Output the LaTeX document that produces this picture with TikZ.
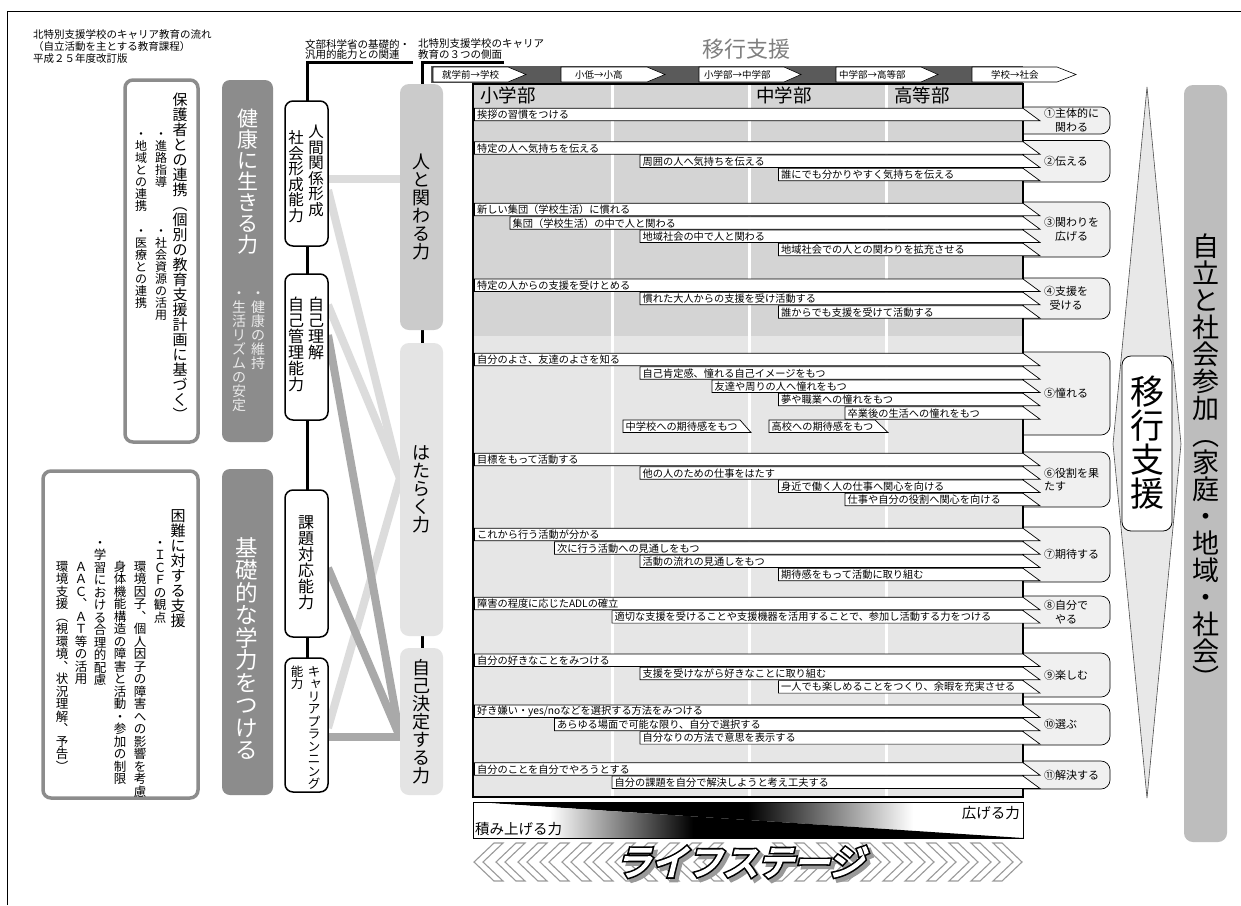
\documentclass[tikz,border=0pt]{standalone}
\usepackage{fontspec}
\setmainfont{Noto Sans CJK JP}
\newfontfamily\lsblack[FakeBold=14,FakeSlant=0.25]{Noto Sans CJK JP}
\newfontfamily\lswhite[FakeBold=5,FakeSlant=0.25]{Noto Sans CJK JP}
\newcommand\fsz[1]{\fontsize{#1}{#1}\selectfont}
\newcommand\fszl[2]{\fontsize{#1}{#2}\selectfont}
% vertical stacking of characters
\def\vstk#1{\ifx\relax#1\else\hbox to 1em{\hss\vrule height .88em depth .12em width 0pt#1\hss}\expandafter\vstk\fi}
\newcommand\vtxt[1]{\vbox{\offinterlineskip\vstk#1\relax}}
\newcommand\vsm[1]{\hbox to 1em{\vrule height .88em depth .12em width 0pt\kern .14em\raise .12em\hbox{#1}\hss}}
\definecolor{gbox}{HTML}{8C8C8C}
\definecolor{bgdark}{HTML}{D4D4D4}
\definecolor{bglight}{HTML}{E6E6E6}
\definecolor{boxdark}{HTML}{CBCBCB}
\definecolor{boxlight}{HTML}{E4E4E4}
\definecolor{linelight}{HTML}{DCDCDC}
\definecolor{linedark}{HTML}{A9A9A9}
\definecolor{lblfill}{HTML}{F0F0F0}
\definecolor{bandgray}{HTML}{5A5A5A}
\definecolor{diafill}{HTML}{E8E8E8}
\definecolor{jiritsu}{HTML}{BDBDBD}
\definecolor{chev}{HTML}{9A9A9A}
\definecolor{titlegray}{HTML}{7F7F7F}
\pgfdeclarehorizontalshading{upperg}{100bp}{color(0bp)=(black); color(25bp)=(black); color(50bp)=(black); color(65bp)=(white); color(100bp)=(white)}
\pgfdeclarehorizontalshading{lowerg}{100bp}{color(0bp)=(white); color(32bp)=(white); color(45bp)=(black); color(100bp)=(black)}
\tikzset{
  vt/.style={anchor=north, inner sep=0pt},
  vc/.style={anchor=center, inner sep=0pt},
  barsty/.style={fill=white, draw=black, line width=0.7pt},
  bartext/.style={anchor=west, inner sep=0pt, font=\fsz{10.2}},
  lblbox/.style={fill=lblfill, draw=black, line width=0.7pt, rounded corners=9pt},
  lbltext/.style={anchor=west, inner sep=0pt, font=\fszl{11}{13.5}, align=center},
  arrowbox/.style={fill=white, draw=black, line width=0.6pt},
  arrowtext/.style={anchor=west, inner sep=0pt, font=\fsz{9.5}},
  hdr/.style={anchor=west, inner sep=0pt, font=\fsz{10.5}},
  colline/.style={line width=3pt, black},
  capbox/.style={fill=white, draw=black, line width=1.5pt, rounded corners=8pt},
  lightband/.style={linelight, line width=8pt},
  darkband/.style={linedark, line width=8pt},
  chevsty/.style={fill=white, draw=chev, line width=1.1pt, line join=miter},
}
\newcounter{barc}
\newcommand\rowbar[3]{\stepcounter{barc}%
  \draw[barsty] (#1,#2) -- (1023,#2) -- (1040,#2+12.5) -- (#1,#2+12.5) -- cycle;
  \node[bartext] (bar\the\value{barc}) at (#1+2.5,#2+6.5) {#3};}
\newcommand\smallbar[5]{\stepcounter{barc}%
  \draw[barsty] (#1,#2) -- (#3,#2) -- (#4,#2+12.5) -- (#1,#2+12.5) -- cycle;
  \node[bartext] (bar\the\value{barc}) at (#1+2.5,#2+6.5) {#5};}
\newcommand\lbl[4]{%
  \draw[lblbox] (1023,#1) -- (1110,#1) -- (1110,#2) -- (1023,#2);
  \node[lbltext] (#4) at (1044,{(#1+#2)/2}) {#3};}
\newcommand\chevL[1]{\draw[chevsty] (#1,862) -- (#1+20,843) -- (#1+29,843) -- (#1+9,862) -- (#1+29,881) -- (#1+20,881) -- cycle;}
\newcommand\chevR[1]{\draw[chevsty] (#1,862) -- (#1-20,843) -- (#1-29,843) -- (#1-9,862) -- (#1-29,881) -- (#1-20,881) -- cycle;}
\begin{document}
\begin{tikzpicture}[x=1pt,y=-1pt]
\useasboundingbox (0,0) rectangle (1241,905);
\fill[white] (0,0) rectangle (1241,905);
% frame
\draw[line width=0.8pt] (7,905) -- (7,11) -- (1241,11);

% headers
\node[hdr] (h1) at (33,35) {北特別支援学校のキャリア教育の流れ};
\node[hdr] (h2) at (33,47) {（自立活動を主とする教育課程）};
\node[hdr] (h3) at (33,59) {平成２５年度改訂版};
\node[hdr] (h4) at (305,44) {文部科学省の基礎的・};
\node[hdr] (h5) at (305,55) {汎用的能力との関連};
\node[hdr] (h6) at (418,44) {北特別支援学校のキャリア};
\node[hdr] (h7) at (418,55) {教育の３つの側面};
\node[font=\fsz{22}, text=titlegray, inner sep=0pt] (title) at (746,49) {移行支援};

% left box 1
\draw[gbox, line width=3.5pt, fill=white, rounded corners=8pt] (125,80) rectangle (198,442);
\node[vt, font=\fsz{15}] (p1) at (180,92) {\vtxt{保護者との連携︵個別の教育支援計画に基づく︶}};
\node[vt, font=\fsz{12}] (p2) at (161,128) {\vtxt{・進路指導}};
\node[vt, font=\fsz{12}] (p3) at (161,225) {\vtxt{・社会資源の活用}};
\node[vt, font=\fsz{12}] (p4) at (141,128) {\vtxt{・地域との連携}};
\node[vt, font=\fsz{12}] (p5) at (141,225) {\vtxt{・医療との連携}};
% gray box 1
\fill[gbox, rounded corners=8pt] (222,80) rectangle (273,442);
\node[vt, font=\fsz{21}, text=white] (k1) at (248,108) {\vtxt{健康に生きる力}};
\node[vt, font=\fsz{14}, text=white!92!black] (k2) at (258,286) {\vtxt{・健康の維持}};
\node[vt, font=\fsz{14}, text=white!92!black] (k3) at (239,286) {\vtxt{・生活リズムの安定}};

% left box 2
\draw[gbox, line width=3.5pt, fill=white, rounded corners=8pt] (43,471) rectangle (198,798);
\node[vt, font=\fsz{15}] (c1) at (178,508) {\vtxt{困難に対する支援}};
\node[vt, font=\fsz{12.5}] (c2) at (160,536) {\vtxt{・ＩＣＦの観点}};
\node[vt, font=\fsz{12.5}] (c3) at (140,560) {\vtxt{環境因子︑個人因子の障害への影響を考慮}};
\node[vt, font=\fsz{12.5}] (c4) at (120,560) {\vtxt{身体機能構造の障害と活動・参加の制限}};
\node[vt, font=\fsz{12.5}] (c5) at (100,536) {\vtxt{・学習における合理的配慮}};
\node[vt, font=\fsz{12.5}] (c6) at (81,560) {\vtxt{ＡＡＣ︑ＡＴ等の活用}};
\node[vt, font=\fsz{12.5}] (c7) at (62,560) {\vtxt{環境支援︵視環境︑状況理解︑予告︶}};
% gray box 2
\fill[gbox, rounded corners=8pt] (222,469) rectangle (273,795);
\node[vt, font=\fsz{22.5}, text=white] (k4) at (247,536) {\vtxt{基礎的な学力をつける}};

% column lines
\draw[colline] (413,62) -- (307,62) -- (307,790);
\draw[colline] (504,62) -- (422,62) -- (422,700);

% connecting bands
\draw[lightband] (328,179) -- (400,179);
\draw[lightband] (328,190) -- (400,478);
\draw[lightband] (328,305) -- (400,478);
\draw[lightband] (328,728) -- (400,478);
\draw[darkband] (328,335) -- (400,737);
\draw[darkband] (328,568) -- (400,737);
\draw[darkband] (328,737) -- (400,737);

% capability boxes
\draw[capbox] (285,101) rectangle (328,246);
\node[vt, font=\fsz{15.5}] (a1) at (316,124) {\vtxt{人間関係形成}};
\node[vt, font=\fsz{15.5}] (a2) at (296,130) {\vtxt{社会形成能力}};
\draw[capbox] (285,274) rectangle (328,420);
\node[vt, font=\fsz{16}] (a3) at (316,296) {\vtxt{自己理解}};
\node[vt, font=\fsz{16}] (a4) at (296,296) {\vtxt{自己管理能力}};
\draw[capbox] (285,490) rectangle (328,637);
\node[vt, font=\fsz{16}] (a5) at (306,514) {\vtxt{課題対応能力}};
\draw[capbox] (285,658) rectangle (328,792);
\node[vt, font=\fsz{12.5}] (a6) at (314,665) {\vbox{\offinterlineskip\vstk キ\relax\vsm{ャ}\vstk リアプランニング\relax}};
\node[vt, font=\fsz{12.5}] (a7) at (297,665) {\vtxt{能力}};

% three powers
\fill[boxdark, rounded corners=9pt] (400,84) rectangle (443,330);
\node[vc, font=\fsz{18}] (f1) at (421.5,207) {\vtxt{人と関わる力}};
\fill[boxlight, rounded corners=9pt] (400,343) rectangle (443,636);
\node[vc, font=\fsz{18}] (f2) at (421.5,489) {\vtxt{はたらく力}};
\fill[boxlight, rounded corners=9pt] (400,648) rectangle (443,795);
\node[vc, font=\fsz{18}] (f3) at (421.5,722) {\vtxt{自己決定する力}};

% top arrow band
\fill[bandgray] (431,66) rectangle (1023,83);
\draw[arrowbox] (433,67) -- (508,67) -- (526,74.5) -- (508,82) -- (433,82) -- cycle;
\node[arrowtext] (t1) at (442,74.5) {就学前→学校};
\draw[arrowbox] (561,67) -- (647,67) -- (665,74.5) -- (647,82) -- (561,82) -- cycle;
\node[arrowtext] (t2) at (575,74.5) {小低→小高};
\draw[arrowbox] (699,67) -- (784,67) -- (801,74.5) -- (784,82) -- (699,82) -- cycle;
\node[arrowtext] (t3) at (704,74.5) {小学部→中学部};
\draw[arrowbox] (836,67) -- (921,67) -- (938,74.5) -- (921,82) -- (836,82) -- cycle;
\node[arrowtext] (t4) at (839,74.5) {中学部→高等部};
\draw[arrowbox] (972,67) -- (1057,67) -- (1076,74.5) -- (1057,82) -- (972,82) -- cycle;
\node[arrowtext] (t5) at (991,74.5) {学校→社会};

% chart
\fill[bgdark] (473,84) rectangle (1023,336);
\fill[bglight] (473,336) rectangle (1023,797);
\draw[white, line width=3pt] (612,84) -- (612,797) (749,84) -- (749,797) (886,84) -- (886,797);
\node[anchor=west, inner sep=0pt, font=\fsz{18.5}] (s1) at (480,95) {小学部};
\node[anchor=west, inner sep=0pt, font=\fsz{18.5}] (s2) at (756,95) {中学部};
\node[anchor=west, inner sep=0pt, font=\fsz{18.5}] (s3) at (894,95) {高等部};

% label boxes
\lbl{107}{134}{①主体的に\\関わる}{l1}
\lbl{140.5}{182}{②伝える}{l2}
\lbl{202}{257}{③関わりを\\広げる}{l3}
\lbl{278}{319}{④支援を\\受ける}{l4}
\lbl{352}{435}{⑤憧れる}{l5}
\draw[lblbox] (1023,452) -- (1110,452) -- (1110,507) -- (1023,507);
\node[lbltext, align=left] (l6) at (1044,479.5) {⑥役割を果\\たす};
\lbl{527}{582}{⑦期待する}{l7}
\lbl{596}{628}{⑧自分で\\やる}{l8}
\lbl{653}{697}{⑨楽しむ}{l9}
\lbl{704}{745}{⑩選ぶ}{l10}
\lbl{761}{789}{⑪解決する}{l11}

\draw[line width=2.2pt] (473,84) rectangle (1023,797);

% bars
\rowbar{474.5}{108.3}{挨拶の習慣をつける}
\rowbar{474.5}{141.7}{特定の人へ気持ちを伝える}
\rowbar{640}{155}{周囲の人へ気持ちを伝える}
\rowbar{778.5}{168.3}{誰にでも分かりやすく気持ちを伝える}
\rowbar{474.5}{203.3}{新しい集団（学校生活）に慣れる}
\rowbar{510}{216.7}{集団（学校生活）の中で人と関わる}
\rowbar{640}{230}{地域社会の中で人と関わる}
\rowbar{778.5}{243.3}{地域社会での人との関わりを拡充させる}
\rowbar{474.5}{279}{特定の人からの支援を受けとめる}
\rowbar{640}{292.3}{慣れた大人からの支援を受け活動する}
\rowbar{778.5}{305.7}{誰からでも支援を受けて活動する}
\rowbar{474.5}{353.3}{自分のよさ、友達のよさを知る}
\rowbar{640}{366.7}{自己肯定感、憧れる自己イメージをもつ}
\rowbar{712}{380}{友達や周りの人へ憧れをもつ}
\rowbar{778.5}{393.3}{夢や職業への憧れをもつ}
\rowbar{845}{406.7}{卒業後の生活への憧れをもつ}
\smallbar{623}{420}{740}{751}{中学校への期待感をもつ}
\smallbar{769}{420}{875}{888}{高校への期待感をもつ}
\rowbar{474.5}{453.3}{目標をもって活動する}
\rowbar{640}{466.7}{他の人のための仕事をはたす}
\rowbar{778.5}{480}{身近で働く人の仕事へ関心を向ける}
\rowbar{845}{493.3}{仕事や自分の役割へ関心を向ける}
\rowbar{474.5}{528.3}{これから行う活動が分かる}
\rowbar{554.4}{541.7}{次に行う活動への見通しをもつ}
\rowbar{640}{555}{活動の流れの見通しをもつ}
\rowbar{778.5}{568.3}{期待感をもって活動に取り組む}
\rowbar{474.5}{597.3}{障害の程度に応じたADLの確立}
\rowbar{612}{610.6}{適切な支援を受けることや支援機器を活用することで、参加し活動する力をつける}
\rowbar{474.5}{654}{自分の好きなことをみつける}
\rowbar{640}{667.3}{支援を受けながら好きなことに取り組む}
\rowbar{778.5}{680.6}{一人でも楽しめることをつくり、余暇を充実させる}
\rowbar{474.5}{705}{好き嫌い・yes/noなどを選択する方法をみつける}
\rowbar{554.4}{718.3}{あらゆる場面で可能な限り、自分で選択する}
\rowbar{640}{731.6}{自分なりの方法で意思を表示する}
\rowbar{474.5}{762.7}{自分のことを自分でやろうとする}
\rowbar{612}{776}{自分の課題を自分で解決しようと考え工夫する}

% gradient box
\shade[shading=upperg] (473,802) -- (1023,802) -- (1023,838) -- cycle;
\shade[shading=lowerg] (473,802) -- (1023,838) -- (473,838) -- cycle;
\draw[line width=0.8pt] (473,802) rectangle (1023,838);
\node[anchor=west, inner sep=0pt, font=\fsz{14.5}] (g1) at (475,829) {積み上げる力};
\node[anchor=east, inner sep=0pt, font=\fsz{14.5}] (g2) at (1020,813) {広げる力};

% life stage chevrons
\foreach \k in {10,9,...,0} {\chevL{474+22*\k}}
\foreach \k in {10,9,...,0} {\chevR{1022-22*\k}}
\node[font={\lsblack\fsz{35.5}}, text=black!40, inner sep=0pt] (lsshadow) at (743.5,865.5) {ライフステージ};
\node[font={\lsblack\fsz{35.5}}, inner sep=0pt] (lsout) at (740,862) {ライフステージ};
\node[font={\lswhite\fsz{35.5}}, text=white, inner sep=0pt] (ls) at (740,862) {ライフステージ};

% transition diamond
\draw[fill=diafill, draw=black!70, line width=0.6pt] (1147,87) -- (1181,444) -- (1147,798) -- (1113,444) -- cycle;
\draw[fill=white, draw=black, line width=0.8pt, rounded corners=9pt] (1122,356) rectangle (1172,531);
\node[vc, font=\fsz{34}] (ik) at (1147,443) {\vtxt{移行支援}};

% independence box
\fill[jiritsu, rounded corners=9pt] (1184,85) rectangle (1227,842);
\node[vc, font=\fsz{27}] (jr) at (1205.5,462) {\vtxt{自立と社会参加︵家庭・地域・社会︶}};
\end{tikzpicture}
\end{document}
